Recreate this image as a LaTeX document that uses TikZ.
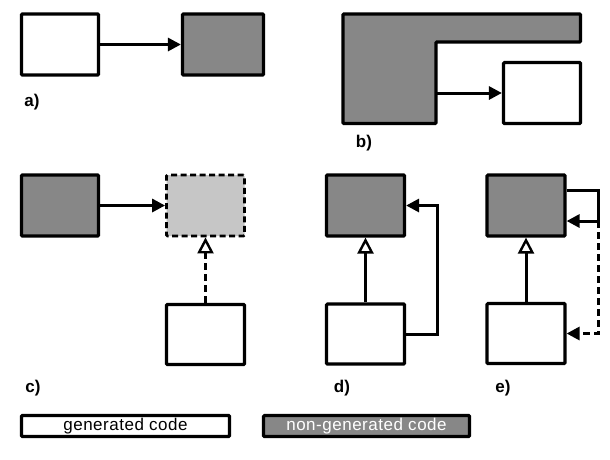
\documentclass[tikz,border=0pt]{standalone}
\usepackage{fontspec}
\setmainfont{Liberation Sans}
\usetikzlibrary{arrows.meta}
\definecolor{dgray}{HTML}{878787}
\definecolor{lgray}{HTML}{C6C6C6}
\tikzset{
  box/.style={draw=black, line width=3.2pt, rounded corners=1pt, minimum width=77pt, minimum height=61pt, inner sep=0pt},
  genbox/.style={box, fill=white},
  ngbox/.style={box, fill=dgray},
  dashbox/.style={box, fill=lgray, line width=2.8pt, dash pattern=on 6pt off 3.5pt},
  conn/.style={line width=3pt, -{Triangle[length=13pt,width=13pt]}},
  inh/.style={line width=3pt, -{Triangle[open,length=16pt,width=16pt,line width=2.4pt]}},
  lbl/.style={font=\fontsize{17pt}{19pt}\selectfont\bfseries, inner sep=0pt},
  legtext/.style={font=\fontsize{17pt}{19pt}\selectfont\addfontfeatures{LetterSpace=3}},
  legbox/.style={draw=black, line width=3.2pt, rounded corners=1pt, minimum height=21pt, inner sep=0pt}
}
\begin{document}
\begin{tikzpicture}[x=1pt,y=-1pt]
\useasboundingbox (0,0) rectangle (610,459);
% a)
\node[genbox] (a1) at (60,44.5) {};
\node[ngbox, minimum width=81pt] (a2) at (223,44.5) {};
\draw[conn] (a1) -- (a2);
\node[lbl] (la) at (32,102) {a)};
% b)
\draw[fill=dgray, line width=3.2pt, rounded corners=1pt] (343,14) -- (580.5,14) -- (580.5,42) -- (436,42) -- (436,123.5) -- (343,123.5) -- cycle;
\coordinate (bs) at (436,93);
\node[genbox] (b2) at (542,93) {};
\draw[conn] (bs) -- (b2);
\node[lbl] (lb) at (364,143) {b)};
% c)
\node[ngbox] (c1) at (60,205.5) {};
\node[dashbox, minimum width=78pt] (c2) at (205.5,205.5) {};
\node[genbox, minimum width=78pt, minimum height=60pt] (c3) at (205.5,334.5) {};
\draw[conn] (c1) -- (c2);
\draw[inh, dash pattern=on 7pt off 4pt] (c3) -- (c2);
\node[lbl] (lc) at (33,388) {c)};
% d)
\node[ngbox, minimum width=78pt] (d1) at (365.5,205.5) {};
\node[genbox, minimum width=78pt, minimum height=60pt] (d2) at (365.5,334) {};
\draw[inh] (d2) -- (d1);
\draw[conn] (d2.east) -- (437,334) -- (437,205.5) -- (d1.east);
\node[lbl] (ld) at (342,388) {d)};
% e)
\node[ngbox, minimum width=78pt] (e1) at (526,205.5) {};
\node[genbox, minimum width=78pt, minimum height=60pt] (e2) at (526,333.5) {};
\draw[inh] (e2) -- (e1);
\coordinate (ec) at (598,221);
\draw[conn] ([yshift=15.5pt]e1.east) -- (598,190) -- (ec) -- ([yshift=-15.5pt]e1.east);
\draw[conn, dash pattern=on 7pt off 4pt] (ec) -- (598,333.5) -- (e2.east);
\node[lbl] (le) at (503,388) {e)};
% legend
\node[legbox, fill=white, minimum width=208pt, legtext] (lg1) at (125.5,426) {generated code};
\node[legbox, fill=dgray, minimum width=206pt, legtext, text=white] (lg2) at (366.5,426) {non-generated code};
\end{tikzpicture}
\end{document}
